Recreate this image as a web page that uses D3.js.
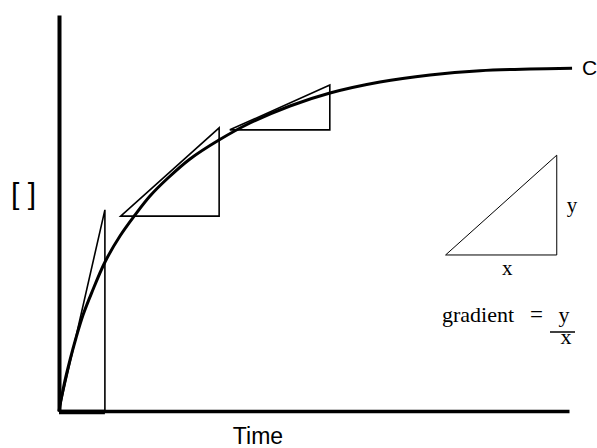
<!DOCTYPE html>
<html>
<head>
<meta charset="utf-8">
<script src="https://cdn.jsdelivr.net/npm/d3@7"></script>
<style>
  html, body { margin: 0; padding: 0; background: #fff; overflow: hidden; }
  svg { display: block; }
</style>
</head>
<body>
<svg id="chart" width="597" height="448"></svg>
<script>
// Reaction curve: time vs concentration (arbitrary units 0-100)
const curveTime = [0, 0.98, 2.16, 3.33, 4.71, 6.47, 9.02, 11.96, 14.90, 17.84, 21.37, 25.69, 31.37, 37.45, 45.29, 53.14, 62.94, 72.75, 82.55, 92.35, 100.6];
const curveConc = [0, 6.57, 12.88, 18.43, 24.24, 30.05, 37.63, 44.19, 49.49, 54.29, 58.84, 63.64, 68.43, 72.73, 77.02, 80.30, 83.08, 84.85, 85.93, 86.36, 86.54];

// Tangent triangles: start (t, c) to end (t, c)
const tangentStartTime = [0, 12.1, 33.5];
const tangentStartConc = [0, 49.2, 71.0];
const tangentEndTime   = [9.0, 31.4, 53.1];
const tangentEndConc   = [50.8, 71.5, 82.3];

// Example triangle for the gradient explanation (t, c)
const exampleStart = [75.8, 39.4];
const exampleEnd   = [97.6, 64.6];

const xLabel = "Time";
const yLabel = "[ ]";
const curveLabel = "C";
const gradientWord = "gradient";

const svg = d3.select("#chart");
const x = d3.scaleLinear().domain([0, 100]).range([59, 569]);
const y = d3.scaleLinear().domain([0, 100]).range([411, 15]);

// Axes (plain lines, no ticks)
const xAxis = d3.axisBottom(x).tickValues([]).tickSizeOuter(0);
const yAxis = d3.axisLeft(y).tickValues([]).tickSizeOuter(0);
svg.append("g").attr("transform", `translate(0,${y(0)})`).call(xAxis)
  .select(".domain").attr("stroke", "#000").attr("stroke-width", 3.5);
svg.append("g").attr("transform", `translate(${x(0)},0)`).call(yAxis)
  .select(".domain").attr("stroke", "#000").attr("stroke-width", 4);

// Tangent triangles
const tri = tangentStartTime.map((t, i) => ({
  t0: t, c0: tangentStartConc[i], t1: tangentEndTime[i], c1: tangentEndConc[i]
}));
svg.append("g").selectAll("path").data(tri).join("path")
  .attr("d", d => `M${x(d.t0)},${y(d.c0)}L${x(d.t1)},${y(d.c1)}L${x(d.t1)},${y(d.c0)}Z`)
  .attr("fill", "none").attr("stroke", "#000").attr("stroke-width", 1.6)
  .attr("stroke-linejoin", "miter");
// thick base of first triangle on the axis
svg.append("line")
  .attr("x1", x(tri[0].t0)).attr("x2", x(tri[0].t1))
  .attr("y1", y(tri[0].c0) + 1).attr("y2", y(tri[0].c0) + 1)
  .attr("stroke", "#000").attr("stroke-width", 4.5);

// Curve
const pts = curveTime.map((t, i) => [t, curveConc[i]]);
svg.append("path").datum(pts)
  .attr("d", d3.line().x(d => x(d[0])).y(d => y(d[1])).curve(d3.curveCatmullRom.alpha(0.5)))
  .attr("fill", "none").attr("stroke", "#000").attr("stroke-width", 3);

// Example triangle
svg.append("path")
  .attr("d", `M${x(exampleStart[0])},${y(exampleStart[1])}L${x(exampleEnd[0])},${y(exampleEnd[1])}L${x(exampleEnd[0])},${y(exampleStart[1])}Z`)
  .attr("fill", "none").attr("stroke", "#000").attr("stroke-width", 1);

const serif = "'Liberation Serif', 'Times New Roman', serif";
const sans = "'Liberation Sans', Arial, sans-serif";

svg.append("text").attr("x", x(exampleEnd[0]) + 10).attr("y", 212)
  .attr("font-family", serif).attr("font-size", 21).text("y");
svg.append("text").attr("x", (x(exampleStart[0]) + x(exampleEnd[0])) / 2 + 6).attr("y", 275)
  .attr("text-anchor", "middle").attr("font-family", serif).attr("font-size", 21).text("x");

svg.append("text").attr("x", 442).attr("y", 322)
  .attr("font-family", serif).attr("font-size", 22).text(gradientWord);
svg.append("text").attr("x", 530).attr("y", 322)
  .attr("font-family", serif).attr("font-size", 23).text("=");
svg.append("text").attr("x", 564).attr("y", 322).attr("text-anchor", "middle")
  .attr("font-family", serif).attr("font-size", 22).text("y");
svg.append("line").attr("x1", 550).attr("x2", 575).attr("y1", 332).attr("y2", 332)
  .attr("stroke", "#000").attr("stroke-width", 1.5);
svg.append("text").attr("x", 566).attr("y", 344).attr("text-anchor", "middle")
  .attr("font-family", serif).attr("font-size", 22).text("x");

// Axis labels
svg.append("text").attr("x", 258).attr("y", 444).attr("text-anchor", "middle")
  .attr("font-family", sans).attr("font-size", 23).text(xLabel);
svg.append("text").attr("x", 11).attr("y", 204)
  .attr("font-family", sans).attr("font-size", 30).text(yLabel);
svg.append("text").attr("x", 582).attr("y", 75)
  .attr("font-family", sans).attr("font-size", 21).text(curveLabel);
</script>
</body>
</html>
